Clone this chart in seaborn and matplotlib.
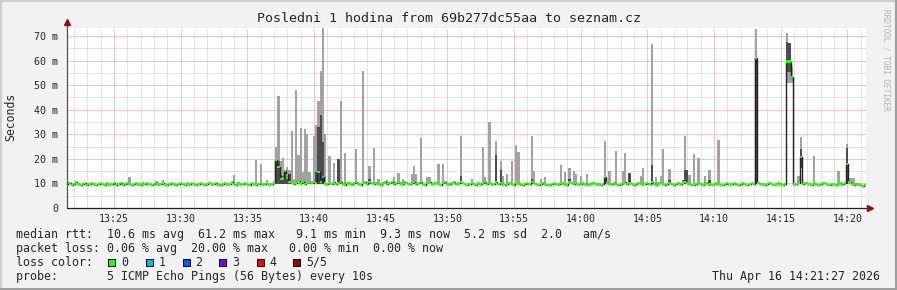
import numpy as np
import pandas as pd
import matplotlib
matplotlib.use("Agg")
import matplotlib.pyplot as plt
from matplotlib.patches import Rectangle
from matplotlib.lines import Line2D
import seaborn as sns

sns.set_style("white")
plt.rcParams["font.family"] = ["DejaVu Sans Mono"]

# ---------------- data ----------------
# samples every 10 s starting 13:21:30 (minutes after 13:00)
first_sample_min = 21.5
step_min = 10 / 60

median_ms = [
    9.6, 10.2, 9.5, 9.9, 10.4, 9.7, 9.3, 9.8, 10.1, 9.5, 9.9, 10.3, 9.6, 9.2, 9.8, 10.2, 9.7, 9.4, 10.0, 9.6, 9.9, 10.3, 9.5, 9.8, 10.1, 9.4, 9.7, 10.2, 9.9, 9.5,
    9.8, 10.3, 9.6, 9.4, 10.0, 9.7, 10.2, 9.9, 9.5, 9.8, 10.4, 9.6, 9.9, 10.2, 9.5, 9.3, 9.8, 10.1, 9.6, 9.4, 9.9, 10.3, 9.7, 9.5, 10.0, 9.6, 10.2, 9.8, 9.4, 9.9,
    10.2, 9.7, 9.4, 9.9, 10.3, 9.6, 9.8, 10.1, 9.5, 9.3, 9.9, 10.2, 9.6, 9.8, 10.4, 9.7, 9.4, 10.0, 9.6, 9.9, 10.3, 9.8, 9.5, 10.1, 9.7, 9.4, 9.9, 10.2, 9.6, 9.8,
    10.1, 9.6, 9.9, 10.4, 19.5, 16.8, 11.8, 12.0, 15.2, 13.4, 10.6, 10.1, 9.7, 10.3, 10.8, 10.0, 10.5, 9.9, 10.4, 10.7, 10.1, 10.6, 10.2, 14.6, 10.5, 12.7, 10.0, 9.6, 10.3, 9.8,
    10.4, 9.7, 10.2, 10.6, 9.8, 9.5, 10.3, 10.0, 9.6, 10.1, 10.5, 9.8, 9.5, 10.2, 10.4, 9.9, 10.7, 10.1, 9.7, 10.3, 9.8, 9.5, 10.0, 10.4, 9.7, 10.2, 10.6, 9.9, 10.3, 10.5,
    10.0, 9.6, 10.4, 10.1, 9.7, 10.3, 10.6, 9.9, 10.2, 10.5, 9.8, 9.5, 10.1, 10.4, 9.7, 10.0, 10.3, 9.8, 9.5, 10.2, 10.5, 9.9, 9.6, 10.1, 10.4, 9.8, 10.0, 10.7, 10.2, 9.7,
    9.5, 9.9, 10.3, 9.7, 9.4, 10.0, 9.6, 10.2, 10.5, 9.8, 10.1, 9.6, 9.9, 10.4, 9.7, 10.3, 9.6, 9.3, 9.9, 10.2, 9.8, 9.5, 10.3, 10.0, 9.6, 9.4, 9.9, 10.2, 9.7, 10.5,
    10.1, 9.7, 9.4, 9.9, 10.3, 9.8, 9.5, 9.3, 9.8, 10.2, 9.9, 9.6, 10.3, 10.0, 9.7, 9.5, 10.4, 10.1, 9.8, 10.2, 9.6, 9.9, 10.3, 9.7, 9.4, 9.6, 10.0, 10.3, 9.9, 9.6,
    9.5, 9.9, 12.7, 10.2, 9.7, 9.9, 10.3, 9.8, 9.5, 9.7, 10.1, 10.4, 9.8, 10.2, 9.7, 9.4, 9.8, 10.2, 10.0, 9.6, 9.8, 10.3, 9.9, 10.5, 9.7, 9.5, 10.0, 10.3, 9.8, 9.4,
    9.7, 10.2, 9.9, 9.5, 9.8, 10.3, 9.6, 10.4, 10.6, 10.1, 9.8, 9.5, 9.4, 9.9, 10.2, 9.7, 9.5, 10.0, 10.3, 9.6, 9.3, 9.6, 10.0, 9.8, 9.5, 9.3, 9.7, 10.1, 9.6, 9.9,
    10.2, 9.6, 9.4, 9.8, 10.1, 9.7, 9.3, 9.7, 10.2, 9.9, 61.0, 10.3, 9.8, 9.6, 9.4, 9.9, 10.2, 9.7, 9.3, 9.6, 10.0, 9.8, 9.4, 9.9, 59.6, 59.6, 53.4, 9.6, 9.9, 10.3,
    20.9, 9.7, 10.1, 10.3, 9.8, 9.5, 10.0, 9.7, 9.4, 9.6, 10.1, 10.3, 9.7, 9.5, 9.9, 9.7, 9.3, 9.8, 10.0, 9.6, 10.2, 17.9, 10.4, 9.7, 9.5, 9.9, 9.6, 9.3, 9.1, 9.3,
]

# samples with lost pings (index, lost count of 5)
loss_idx = [115]
loss_cnt = [1]

# outer smoke (light grey): sample index, lowest and highest ping
smoke_idx = [28, 43, 75, 85, 87, 90, 94, 95, 96, 97, 98, 99, 100, 101, 102, 103, 104, 105, 106, 107,
             108, 109, 110, 111, 112, 113, 114, 115, 116, 118, 120, 122, 123, 125, 130, 133, 136, 138, 140, 144,
             147, 149, 151, 155, 156, 157, 159, 162, 163, 167, 169, 177, 182, 187, 188, 190, 193, 195, 196, 198,
             200, 202, 203, 209, 210, 213, 215, 222, 224, 226, 228, 229, 231, 234, 242, 244, 247, 250, 251, 253,
             258, 259, 263, 265, 267, 268, 271, 277, 278, 279, 280, 282, 284, 287, 289, 293, 310, 324, 325, 326,
             329, 330, 336, 347, 351, 352, 353, 354]
smoke_lo = [9.6, 9.6, 9.6, 9.6, 9.6, 9.6, 9.8, 9.8, 9.8, 9.8, 9.8, 9.8, 9.8, 9.8, 9.8, 9.8, 9.8, 9.8, 9.8, 9.8,
            9.8, 9.8, 9.8, 9.8, 9.8, 9.8, 9.8, 9.8, 9.8, 9.8, 9.8, 9.8, 9.8, 9.6, 9.6, 9.6, 9.6, 9.6, 9.6, 9.6,
            9.6, 9.6, 9.6, 9.6, 9.6, 9.6, 9.6, 9.6, 9.6, 9.6, 9.6, 9.6, 9.6, 9.6, 9.6, 9.6, 9.6, 9.6, 9.6, 9.6,
            9.6, 9.6, 9.6, 9.6, 9.6, 9.6, 9.6, 9.6, 9.6, 9.6, 9.6, 9.6, 9.6, 9.6, 9.6, 9.6, 9.6, 9.6, 9.6, 9.6,
            9.6, 9.6, 9.6, 9.6, 9.6, 9.6, 9.6, 9.6, 9.6, 9.6, 9.6, 9.6, 9.6, 9.6, 9.6, 9.6, 9.8, 50.7, 50.7, 50.7,
            9.6, 16.4, 9.6, 9.6, 9.8, 9.6, 9.6, 9.6]
smoke_hi = [12.7, 11.4, 13.4, 19.5, 17.8, 11.2, 25.0, 45.6, 19.1, 20.5, 15.2, 16.8, 15.5, 31.3, 12.0, 48.0, 21.6, 32.7, 14.5, 32.3,
            30.0, 14.7, 11.0, 29.3, 33.8, 43.5, 55.8, 73.1, 30.0, 21.2, 18.3, 19.9, 43.5, 22.5, 24.0, 55.8, 17.1, 24.5, 12.0, 11.5,
            12.7, 14.4, 12.0, 14.0, 17.1, 14.0, 28.6, 12.5, 12.5, 18.0, 18.0, 29.4, 12.0, 25.0, 12.6, 35.1, 27.3, 19.3, 13.0, 14.0,
            19.3, 25.6, 22.9, 29.4, 15.0, 12.0, 12.7, 17.5, 14.8, 16.4, 15.0, 14.0, 13.0, 14.0, 27.3, 15.0, 23.3, 15.0, 22.5, 14.4,
            13.0, 16.4, 66.6, 12.7, 13.0, 24.0, 16.0, 11.5, 29.4, 15.5, 13.6, 22.0, 20.2, 13.0, 15.5, 27.7, 72.9, 71.4, 67.3, 57.5,
            13.0, 29.0, 21.3, 15.0, 26.0, 12.3, 12.3, 12.3]

# inner smoke (dark grey)
dark_idx = [94, 95, 96, 97, 98, 99, 100, 111, 112, 113, 114, 115, 122, 136, 177, 193, 195, 209, 226, 242,
            253, 263, 271, 277, 278, 279, 289, 310, 324, 325, 330, 351]
dark_lo = [9.8, 9.8, 9.8, 9.8, 9.8, 9.8, 9.8, 9.8, 9.8, 9.8, 9.8, 9.8, 9.8, 9.6, 9.6, 9.6, 9.6, 9.6, 9.6, 9.6,
           9.6, 9.6, 9.6, 9.6, 9.6, 9.6, 9.6, 9.8, 55.5, 55.5, 16.4, 9.8]
dark_hi = [19.5, 19.0, 13.4, 13.0, 15.2, 12.0, 14.0, 11.0, 14.6, 33.0, 37.8, 27.0, 19.9, 11.8, 13.0, 21.6, 15.5, 12.0, 12.0, 13.0,
           14.4, 17.5, 11.5, 11.5, 15.5, 15.5, 11.5, 61.3, 67.7, 67.3, 24.0, 24.3]

x_tick_minutes = [25, 30, 35, 40, 45, 50, 55, 60, 65, 70, 75, 80]
x_tick_labels = ["13:25", "13:30", "13:35", "13:40", "13:45", "13:50",
                 "13:55", "14:00", "14:05", "14:10", "14:15", "14:20"]
y_ticks = [0, 10, 20, 30, 40, 50, 60, 70]
y_tick_labels = ["0", "10 m", "20 m", "30 m", "40 m", "50 m", "60 m", "70 m"]

loss_colors = ["#26ff00", "#00b8ff", "#0059ff", "#7e00ff", "#ff0000", "#a10000"]
loss_labels = ["0", "1", "2", "3", "4", "5/5"]

title = "Posledni 1 hodina from 69b277dc55aa to seznam.cz"
stat_lines = [
    "median rtt:  10.6 ms avg  61.2 ms max   9.1 ms min  9.3 ms now  5.2 ms sd  2.0   am/s",
    "packet loss: 0.06 % avg  20.00 % max   0.00 % min  0.00 % now",
    "loss color:",
    "probe:       5 ICMP Echo Pings (56 Bytes) every 10s",
]
stamp = "Thu Apr 16 14:21:27 2026"

# ---------------- frame ----------------
W, H = 897, 290
def fx(px):
    return px / W
def fy(py):
    return 1 - py / H

fig = plt.figure(figsize=(W / 100, H / 100), dpi=100)
fig.patch.set_facecolor("#f2f2f2")

ax = fig.add_axes([fx(67), fy(208), 799 / W, 180 / H])
ax.set_facecolor("white")
px_per_min = 200 / 15
px_per_ms = 172 / 70
t_left = 25 - 47 / px_per_min
t_right = 25 + 752 / px_per_min
ymax = 180 / px_per_ms
ax.set_xlim(t_left, t_right)
ax.set_ylim(0, ymax)
for s in ax.spines.values():
    s.set_visible(False)

# dotted grid
for m in range(22, 82):
    major = m % 5 == 0
    ax.axvline(m, color="#e58f8f" if major else "#c8c8c8", lw=0.72,
               ls=(0, (1, 1)), zorder=0.5)
for v in range(5, 75, 5):
    major = v % 10 == 0
    ax.axhline(v, color="#e58f8f" if major else "#c8c8c8", lw=0.72,
               ls=(0, (1, 1)), zorder=0.5)

med = pd.DataFrame({"idx": np.arange(len(median_ms)), "ms": median_ms})
med["t"] = first_sample_min + med["idx"] * step_min
loss = np.zeros(len(median_ms), dtype=int)
loss[loss_idx] = loss_cnt
med["color"] = [loss_colors[k] for k in loss]

smoke = pd.DataFrame({"idx": smoke_idx, "lo": smoke_lo, "hi": smoke_hi})
smoke["t"] = first_sample_min + smoke["idx"] * step_min
dark = pd.DataFrame({"idx": dark_idx, "lo": dark_lo, "hi": dark_hi})
dark["t"] = first_sample_min + dark["idx"] * step_min

ax.bar(smoke["t"], smoke["hi"] - smoke["lo"], bottom=smoke["lo"], width=step_min,
       color="#a2a2a2", linewidth=0, zorder=2)
ax.bar(dark["t"], dark["hi"] - dark["lo"], bottom=dark["lo"], width=step_min,
       color="#4d4d4d", linewidth=0, zorder=2.5)

sns.lineplot(data=med, x="t", y="ms", ax=ax, color="#202020", lw=1.0,
             drawstyle="steps-mid", estimator=None, zorder=3)
swidth = ymax / 180
ax.bar(med["t"], 2.2 * swidth, bottom=med["ms"] - 1.1 * swidth, width=step_min,
       color=med["color"], linewidth=0, zorder=4)

ax.set_xlabel("")
ax.set_ylabel("")
ax.set_xticks(x_tick_minutes)
ax.set_xticklabels(x_tick_labels)
ax.set_yticks(y_ticks)
ax.set_yticklabels(y_tick_labels)
ax.tick_params(axis="both", length=2.5, width=0.7, color="#555555",
               labelsize=7.2, pad=2)
ax.tick_params(axis="y", pad=4)

# axes with arrows
ext_y = ymax + 6 / px_per_ms
ax.plot([t_left, t_left], [0, ext_y], color="#505050", lw=0.9, clip_on=False, zorder=6)
ax.plot([t_left], [ext_y], marker="^", ms=4.5, color="#8b1010", clip_on=False, zorder=7)
ext_x = t_right + 4 / px_per_min
ax.plot([t_left, ext_x], [0, 0], color="#202020", lw=0.9, clip_on=False, zorder=6)
ax.plot([ext_x], [0], marker=">", ms=4.5, color="#8b1010", clip_on=False, zorder=7)

# texts
fig.text(0.5, fy(19), title, ha="center", va="center", fontsize=9.6)
fig.text(fx(11), fy(117), "Seconds", rotation=90, ha="center", va="center", fontsize=8.3)
fig.text(fx(886), fy(60), "RRDTOOL / TOBI OETIKER", rotation=270, ha="center",
         va="center", fontsize=5.6, color="#b4b4b4")

line_y = [234.3, 248.3, 262.3, 276.3]
for txt, yy in zip(stat_lines, line_y):
    fig.text(fx(16), fy(yy), txt, ha="left", va="center", fontsize=8.35)
fig.text(fx(880), fy(276.3), stamp, ha="right", va="center", fontsize=8.35)

box_x = [108.3, 145.7, 182.7, 219.3, 256.7, 293.3]
for bx, c, lab in zip(box_x, loss_colors, loss_labels):
    fig.patches.append(Rectangle((fx(bx), fy(265.8)), 7 / W, 7 / H,
                                 transform=fig.transFigure, facecolor=c,
                                 edgecolor="black", linewidth=0.7))
    fig.text(fx(bx + 12.5), fy(262.3), lab, ha="left", va="center", fontsize=8.35)

# 3D frame
fig.add_artist(Line2D([0, 1], [fy(0.5), fy(0.5)], transform=fig.transFigure, color="#cfcfcf", lw=1.5))
fig.add_artist(Line2D([fx(0.5), fx(0.5)], [0, 1], transform=fig.transFigure, color="#cfcfcf", lw=1.5))
fig.add_artist(Line2D([0, 1], [fy(289), fy(289)], transform=fig.transFigure, color="#9e9e9e", lw=1.5))
fig.add_artist(Line2D([fx(896), fx(896)], [0, 1], transform=fig.transFigure, color="#9e9e9e", lw=1.5))

fig.savefig("out.png", dpi=100, facecolor=fig.get_facecolor())
